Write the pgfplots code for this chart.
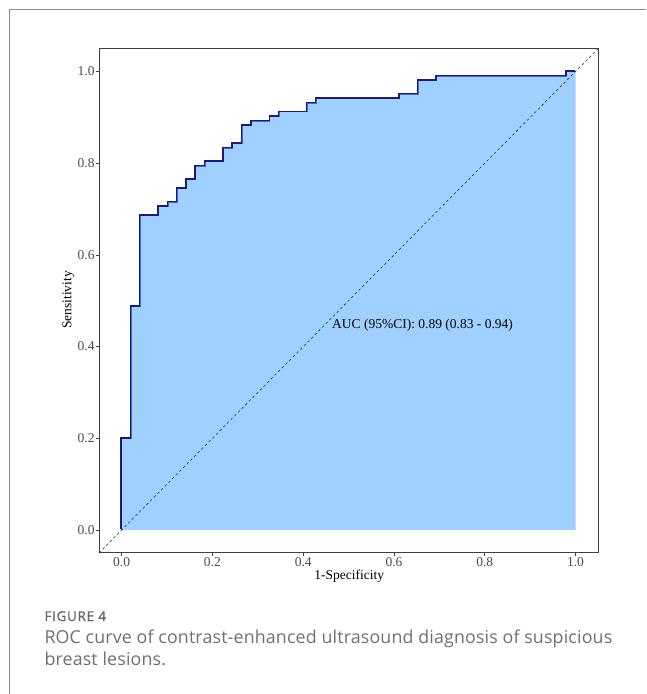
\documentclass[border=0pt]{standalone}
\usepackage{fontspec}
\setmainfont{Liberation Serif}
\newfontfamily\capfontsp[LetterSpace=0.9]{Open Sans}
\newfontfamily\figfont[LetterSpace=5,FakeBold=0.8]{Open Sans}
\usepackage{pgfplots}
\usepackage{pgfplotstable}
\pgfplotsset{compat=1.18}
\definecolor{fillblue}{RGB}{159,208,255}
\definecolor{rocnavy}{RGB}{26,26,126}
\definecolor{rocedge}{RGB}{61,106,214}
\definecolor{capgray}{RGB}{112,112,112}
\pgfplotstableread{
fpr tpr
0 0
0 0.200
0.0204 0.487
0.0408 0.686
0.0816 0.705
0.1020 0.715
0.1224 0.745
0.1429 0.764
0.1633 0.794
0.1837 0.804
0.2245 0.833
0.2449 0.843
0.2653 0.882
0.2857 0.892
0.3265 0.902
0.3469 0.912
0.4082 0.931
0.4286 0.941
0.6122 0.951
0.6531 0.980
0.6939 0.990
0.9796 1.000
1.0000 1.000
}\roc
\begin{document}
\begin{tikzpicture}
\path[use as bounding box] (0,0) rectangle (646pt,-694pt);
\fill[white] (0,0) rectangle (646pt,-694pt);
\draw[black!45, line width=0.8pt] (9.3pt,-694pt) -- (9.3pt,-9pt) -- (646pt,-9pt);
\begin{axis}[
  at={(98.95pt,-552.9pt)}, anchor=south west,
  width=499.25pt, height=504.3pt, scale only axis,
  xmin=-0.05, xmax=1.05, ymin=-0.05, ymax=1.05,
  xtick={0,0.2,0.4,0.6,0.8,1}, xticklabels={0.0,0.2,0.4,0.6,0.8,1.0},
  ytick={0,0.2,0.4,0.6,0.8,1}, yticklabels={0.0,0.2,0.4,0.6,0.8,1.0},
  tick pos=left, tick align=outside, major tick length=3pt,
  every tick/.style={black!75, line width=0.6pt},
  axis line style={black!75, line width=0.9pt},
  ticklabel style={font=\fontsize{13.5}{15}\selectfont, text=black!70, inner sep=1.2pt},
  clip=true,
]
\addplot[const plot, fill=fillblue, draw=none] table[x=fpr, y=tpr] {\roc} \closedcycle;
\addplot[const plot, rocedge, line width=1.2pt] table[x=fpr, y=tpr] {\roc};
\addplot[const plot, rocnavy, line width=1.6pt, xshift=-0.5pt, yshift=0.5pt] table[x=fpr, y=tpr] {\roc};
\addplot[black!85, line width=0.55pt, dash pattern=on 2.6pt off 2.6pt] coordinates {(-0.05,-0.05) (1.05,1.05)};
\node[font=\fontsize{13.5}{15}\selectfont, anchor=base, inner sep=0pt] at (axis cs:0.663,0.44) {AUC (95\%CI): 0.89 (0.83 - 0.94)};
\end{axis}
\node[font=\fontsize{13.5}{15}\selectfont, anchor=base, inner sep=0pt] at (349.2pt,-579pt) {1-Specificity};
\node[font=\fontsize{13.5}{15}\selectfont, rotate=90, anchor=center, inner sep=0pt] at (68.3pt,-300pt) {Sensitivity};
\node[font=\figfont\fontsize{13.5}{16}\selectfont, text=capgray!90!black, anchor=base west, inner sep=0pt] at (44.3pt,-621pt) {FIGURE 4};
\node[font=\capfontsp\fontsize{17.8}{22.3}\selectfont, text=capgray, anchor=base west, inner sep=0pt] at (44.3pt,-643.4pt) {ROC curve of contrast-enhanced ultrasound diagnosis of suspicious};
\node[font=\capfontsp\fontsize{17.8}{22.3}\selectfont, text=capgray, anchor=base west, inner sep=0pt] at (44.3pt,-665pt) {breast lesions.};
\end{tikzpicture}
\end{document}
